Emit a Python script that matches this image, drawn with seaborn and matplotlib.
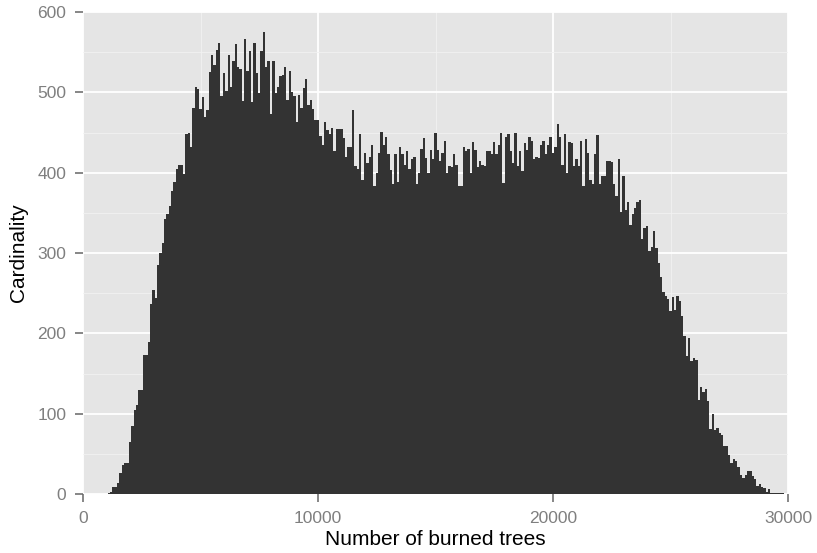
import numpy as np
import pandas as pd
import matplotlib
matplotlib.use("Agg")
import matplotlib.pyplot as plt
import seaborn as sns

# Bin counts, bins of 100 trees starting at 1100
first_bin = 1100
bin_width = 100
counts = [
    1, 2, 9, 9, 14, 26, 36, 38, 38, 65,                       # 1100-2000
    85, 104, 111, 129, 129, 173, 173, 189, 237, 254,          # 2100-3000
    244, 285, 300, 313, 342, 348, 359, 377, 388, 405,         # 3100-4000
    409, 409, 398, 448, 449, 432, 480, 507, 504, 479,         # 4100-5000
    494, 469, 478, 525, 546, 534, 553, 561, 495, 524,         # 5100-6000
    502, 547, 507, 539, 560, 532, 529, 489, 567, 526,         # 6100-7000
    552, 488, 561, 524, 499, 551, 575, 532, 539, 473,         # 7100-8000
    539, 499, 507, 520, 521, 532, 491, 527, 500, 496,         # 8100-9000
    463, 497, 480, 505, 517, 484, 491, 479, 466, 466,         # 9100-10000
    446, 435, 463, 453, 448, 455, 427, 454, 454, 454,         # 10100-11000
    443, 420, 432, 432, 478, 408, 405, 448, 391, 425,         # 11100-12000
    412, 419, 435, 384, 400, 424, 451, 435, 444, 423,         # 12100-13000
    403, 386, 423, 389, 432, 423, 409, 427, 404, 417,         # 13100-14000
    419, 386, 399, 429, 443, 418, 400, 428, 417, 450,         # 14100-15000
    428, 415, 424, 440, 399, 408, 407, 423, 409, 383,         # 15100-16000
    384, 432, 427, 430, 400, 438, 428, 407, 414, 410,         # 16100-17000
    408, 427, 427, 423, 438, 423, 434, 450, 387, 444,         # 17100-18000
    448, 427, 412, 450, 408, 427, 402, 437, 428, 445,         # 18100-19000
    439, 417, 420, 418, 435, 440, 423, 435, 445, 425,         # 19100-20000
    432, 460, 445, 410, 448, 400, 438, 437, 408, 417,         # 20100-21000
    408, 439, 383, 442, 424, 391, 386, 423, 447, 386,         # 21100-22000
    396, 396, 414, 415, 413, 386, 371, 417, 351, 396,         # 22100-23000
    353, 364, 335, 348, 356, 363, 366, 318, 331, 333,         # 23100-24000
    303, 308, 328, 306, 287, 270, 252, 246, 243, 228,         # 24100-25000
    245, 229, 246, 240, 221, 197, 172, 194, 165, 169,         # 25100-26000
    167, 117, 133, 127, 131, 116, 81, 100, 80, 82,            # 26100-27000
    76, 73, 60, 60, 49, 38, 44, 41, 34, 24,                   # 27100-28000
    20, 24, 29, 29, 22, 19, 10, 12, 9, 8,                     # 28100-29000
    3, 6, 1, 1, 1, 1, 1, 1,                                   # 29100-29800
]

x_ticks = [0, 10000, 20000, 30000]
y_ticks = [0, 100, 200, 300, 400, 500, 600]

centers = first_bin + bin_width * np.arange(len(counts))
df = pd.DataFrame({"burned": centers, "n": counts})
lo = centers[0] - bin_width / 2
hi = centers[-1] + bin_width / 2

sns.set_theme(style="darkgrid")
plt.rcParams['font.family'] = ['Liberation Sans', 'DejaVu Sans']
plt.rcParams.update({
    "xtick.bottom": True, "ytick.left": True,
    "xtick.major.size": 5.5, "ytick.major.size": 5.5,
    "xtick.major.width": 1.1, "ytick.major.width": 1.1,
    "xtick.color": "#666666", "ytick.color": "#666666",
    "xtick.direction": "out", "ytick.direction": "out",
})

fig, ax = plt.subplots(figsize=(8.17, 5.53), dpi=100)
fig.subplots_adjust(left=83/817, right=788/817, bottom=59/553, top=541/553)

sns.histplot(data=df, x="burned", weights="n", binwidth=bin_width, binrange=(lo, hi),
             color="#333333", alpha=1, linewidth=0, ax=ax, zorder=3)

# ggplot grey panel look
ax.set_facecolor("#E5E5E5")
ax.set_xlim(0, 30000)
ax.set_ylim(0, 600)
ax.set_xticks(x_ticks)
ax.set_yticks(y_ticks)
ax.set_xticks([5000, 15000, 25000], minor=True)
ax.set_yticks([50, 150, 250, 350, 450, 550], minor=True)
ax.grid(which="major", color="white", linewidth=1.3, zorder=1)
ax.grid(which="minor", color="#F2F2F2", linewidth=0.6, zorder=1)
ax.set_axisbelow(True)
for s in ax.spines.values():
    s.set_visible(False)

ax.tick_params(which="major", labelcolor="#7F7F7F", labelsize=12.5, pad=6.5)
ax.tick_params(which="minor", length=0)

ax.set_xlabel("Number of burned trees", fontsize=15, color="black", labelpad=3)
ax.set_ylabel("Cardinality", fontsize=15, color="black", labelpad=7)

fig.savefig("out.png", dpi=100)
